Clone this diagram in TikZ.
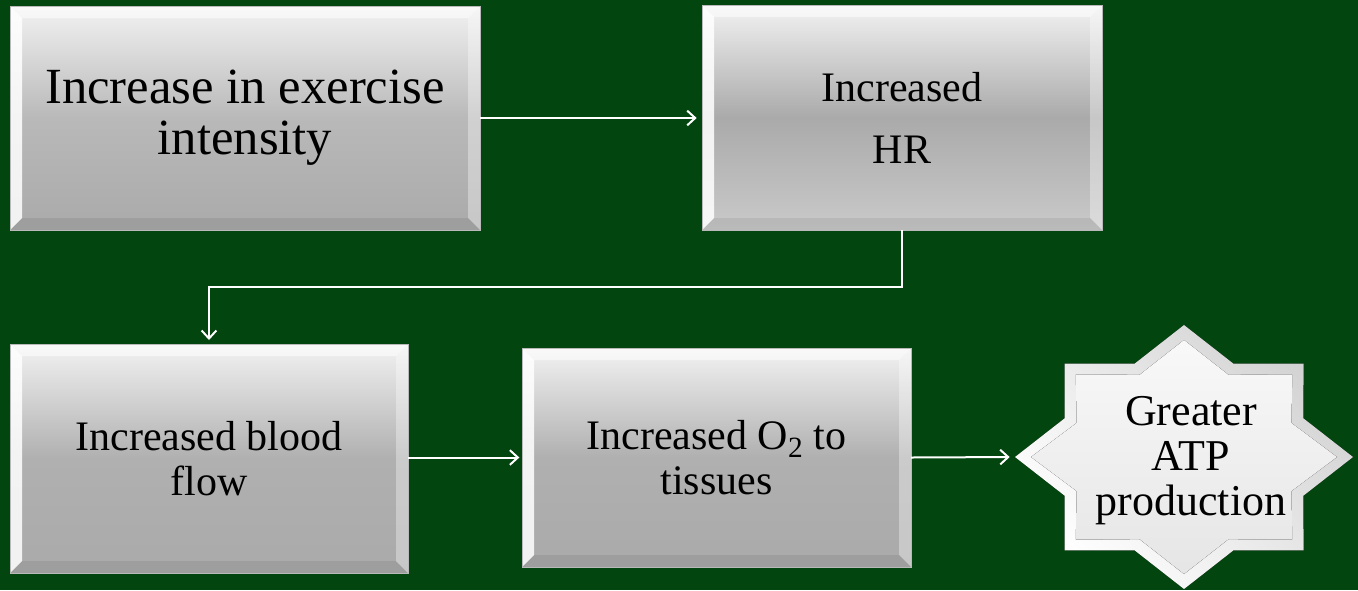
\documentclass[tikz,border=0pt]{standalone}
\usepackage{fontspec}
\setmainfont{Liberation Serif}
\usetikzlibrary{arrows.meta,calc}
\definecolor{bggreen}{RGB}{3,69,15}
\definecolor{boxlight}{RGB}{242,242,242}
\definecolor{boxdark}{RGB}{170,170,170}
\newcommand{\ppbb}{path picture bounding box}
\tikzset{
  x=0.75pt, y=-0.75pt,
  bevelbox/.style={rectangle, inner sep=0pt, outer sep=0pt, align=center, text=black,
    draw=gray!55, line width=0.4pt,
    path picture={
      \def\bw{9pt}
      % left edge
      \fill[white,opacity=.85] (\ppbb.north west) -- (\ppbb.south west)
        -- ([shift={(\bw,\bw)}]\ppbb.south west) -- ([shift={(\bw,-\bw)}]\ppbb.north west) -- cycle;
      % top edge
      \fill[white,opacity=.55] (\ppbb.north west) -- (\ppbb.north east)
        -- ([shift={(-\bw,-\bw)}]\ppbb.north east) -- ([shift={(\bw,-\bw)}]\ppbb.north west) -- cycle;
      % right edge
      \fill[white,opacity=.35] (\ppbb.north east) -- (\ppbb.south east)
        -- ([shift={(-\bw,\bw)}]\ppbb.south east) -- ([shift={(-\bw,-\bw)}]\ppbb.north east) -- cycle;
      % bottom edge
      \fill[black,opacity=.07] (\ppbb.south west) -- (\ppbb.south east)
        -- ([shift={(-\bw,\bw)}]\ppbb.south east) -- ([shift={(\bw,\bw)}]\ppbb.south west) -- cycle;
    }},
  flowarrow/.style={draw=white, line width=1.5pt,
    -{Straight Barb[length=6pt,width=11pt,line width=1.5pt]}},
}
\begin{document}
\begin{tikzpicture}
  % background
  \fill[bggreen] (0,0) rectangle (1358,590);
  \useasboundingbox (0,0) rectangle (1358,590);

  % boxes
  \node[bevelbox, minimum width=352.5pt, minimum height=168pt,
        top color=boxlight, bottom color=boxdark, middle color=gray!55!white,
        font=\fontsize{38}{38}\selectfont]
    (exercise) at (245,118) {Increase in exercise\\intensity};

  \node[bevelbox, minimum width=300pt, minimum height=168.75pt,
        top color=boxlight, bottom color=gray!42!white, middle color=boxdark,
        font=\fontsize{31.5}{46.5}\selectfont]
    (hr) at (902,117.5) {Increased\\HR};

  \node[bevelbox, minimum width=298.5pt, minimum height=171.75pt,
        top color=boxlight, bottom color=boxdark, middle color=gray!62!white,
        font=\fontsize{31.5}{33.75}\selectfont]
    (blood) at (209,458.5) {Increased blood\\flow};

  \node[bevelbox, minimum width=291.75pt, minimum height=164.25pt,
        top color=boxlight, bottom color=boxdark, middle color=gray!62!white,
        font=\fontsize{31.5}{33.75}\selectfont]
    (oxygen) at (716.5,457.5) {Increased O\textsubscript{2} to\\tissues};

  % eight-pointed star with a bevelled rim
  \coordinate (starc) at (1184,457);
  \begin{scope}[shift={(starc)}]
    \fill[left color=white, right color=gray!35!white, shading angle=135]
      plot[samples at={0,...,15}]
        ({169*(1-0.235*mod(\x,2))*cos(22.5*\x)}, {132*(1-0.235*mod(\x,2))*sin(22.5*\x)}) -- cycle;
    \fill[top color=gray!5!white, bottom color=gray!20!white]
      plot[samples at={0,...,15}]
        ({153*(1-0.24*mod(\x,2))*cos(22.5*\x)}, {117*(1-0.24*mod(\x,2))*sin(22.5*\x)}) -- cycle;
  \end{scope}
  \coordinate (atp tip) at (1015,457);
  \node[align=center, inner sep=0pt, font=\fontsize{33}{33.75}\selectfont]
    (atp) at (1191,461) {Greater\\ATP\\production};

  % connectors
  \coordinate (bend) at (0,287);
  \draw[flowarrow, shorten >=4pt] (exercise.east) -- (hr.west |- exercise.east);
  \draw[flowarrow, shorten >=3pt] (hr.south) -- (hr.south |- bend) -| (blood.north);
  \draw[flowarrow, shorten >=2pt] (blood.east |- oxygen.west) -- (oxygen.west);
  \draw[flowarrow, shorten >=4pt] (oxygen.east) -- (atp tip);
\end{tikzpicture}
\end{document}
